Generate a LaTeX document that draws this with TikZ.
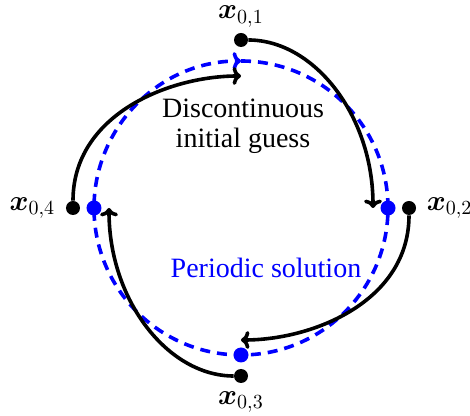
\documentclass[tikz,border=0pt,12pt]{standalone}
\usepackage{amsmath,amssymb}
\usepackage{fontspec}
\setmainfont{Liberation Serif}
\usepackage{xcolor}
\usepackage{tikz}
\usetikzlibrary{calc,arrows.meta,positioning}
\definecolor{solc}{RGB}{0,0,255}
\tikzset{
  guess/.style={-{To[length=4.2pt,width=9pt]},line width=1.8pt,black},
  orbit/.style={line width=1.8pt,solc,dash pattern=on 5pt off 3.5pt},
  bdot/.style={circle,fill=black,inner sep=0pt,minimum size=7pt},
  sdot/.style={circle,fill=solc,inner sep=0pt,minimum size=7.5pt},
  lbl/.style={inner sep=1pt}
}
\begin{document}
\begin{tikzpicture}[x=1pt,y=1pt,font=\fontsize{14}{16}\selectfont]
\useasboundingbox (-120.5,-104) rectangle (114.5,104);
% periodic orbit
\draw[orbit,-{To[length=4.2pt,width=9pt]}] (0,73.5) arc[start angle=90,end angle=-270,radius=73.5pt];
\node[sdot] (s2) at (73.5,0) {};
\node[sdot] (s3) at (0,-73.5) {};
\node[sdot] (s4) at (-73.5,0) {};
% initial guess
\node[bdot] (x01) at (0,84) {};
\node[bdot] (x02) at (84,0) {};
\node[bdot] (x03) at (0,-84) {};
\node[bdot] (x04) at (-84,0) {};
\coordinate (e1) at (66,0);
\coordinate (e2) at (0,-66);
\coordinate (e3) at (-66,0);
\coordinate (e4) at (0,66);
\draw[guess] (x01) .. controls +(36.4,0) and +(0,46.4) .. (e1);
\draw[guess] (x02) .. controls +(0,-46.4) and +(36.4,0) .. (e2);
\draw[guess] (x03) .. controls +(-36.4,0) and +(0,-46.4) .. (e3);
\draw[guess] (x04) .. controls +(0,46.4) and +(-36.4,0) .. (e4);
\node[lbl,above=1.5pt of x01] (l1) {$\boldsymbol{x}_{0,1}$};
\node[lbl,right=4pt of x02] (l2) {$\boldsymbol{x}_{0,2}$};
\node[lbl,below=3pt of x03] (l3) {$\boldsymbol{x}_{0,3}$};
\node[lbl,left=4pt of x04] (l4) {$\boldsymbol{x}_{0,4}$};
\node[align=center] (dg) at (1,41) {Discontinuous\\[-1pt]initial guess};
\node[solc] (ps) at (12.5,-30) {Periodic solution};
\end{tikzpicture}
\end{document}
